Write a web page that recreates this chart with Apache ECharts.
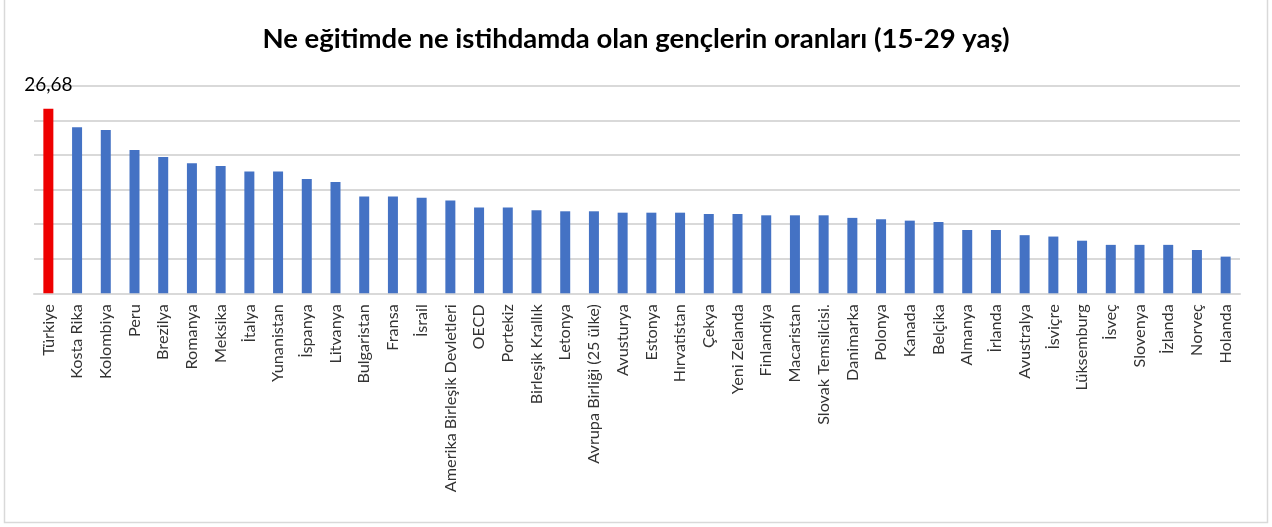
<!DOCTYPE html>
<html>
<head>
<meta charset="utf-8">
<script src="https://cdn.jsdelivr.net/npm/echarts@6/dist/echarts.min.js"></script>
<style>
html,body{margin:0;padding:0;background:#fff;}
#chart{width:1272px;height:527px;}
</style>
</head>
<body>
<div id="chart"></div>
<script>
const titleText = 'Ne eğitimde ne istihdamda olan gençlerin oranları (15-29 yaş)';
const categories = ['Türkiye','Kosta Rika','Kolombiya','Peru','Brezilya','Romanya','Meksika','İtalya','Yunanistan','İspanya','Litvanya','Bulgaristan','Fransa','İsrail','Amerika Birleşik Devletleri','OECD','Portekiz','Birleşik Krallık','Letonya','Avrupa Birliği (25 ülke)','Avusturya','Estonya','Hırvatistan','Çekya','Yeni Zelanda','Finlandiya','Macaristan','Slovak Temsilcisi.','Danimarka','Polonya','Kanada','Belçika','Almanya','İrlanda','Avustralya','İsviçre','Lüksemburg','İsveç','Slovenya','İzlanda','Norveç','Holanda'];
const values = [26.68,24.0,23.6,20.7,19.7,18.8,18.4,17.6,17.6,16.5,16.1,14.0,14.0,13.8,13.4,12.4,12.4,12.0,11.85,11.85,11.65,11.65,11.65,11.46,11.46,11.27,11.27,11.27,10.9,10.7,10.5,10.3,9.15,9.15,8.4,8.2,7.6,7.0,7.0,7.0,6.26,5.3];
const highlightIndex = 0;
const highlightLabel = '26,68';
const yMin = 0, yMax = 30, yStep = 5;

const chart = echarts.init(document.getElementById('chart'), null, {renderer:'canvas'});
const FONT = 'Lato, "Open Sans", sans-serif';
chart.setOption({
  animation:false,
  backgroundColor:'#fff',
  title:{
    text:titleText, left:'center', top:20,
    textStyle:{fontFamily:FONT, fontSize:27.5, fontWeight:'bold', color:'#000'}
  },
  graphic:[{type:'rect', shape:{x:4.5,y:-2,width:1263,height:524.5}, style:{fill:'none', stroke:'#d9d9d9', lineWidth:1.5}, silent:true}],
  grid:{left:34, right:32, top:85.7, bottom:233.7, containLabel:false},
  xAxis:{
    type:'category', data:categories,
    axisLine:{lineStyle:{color:'#d9d9d9', width:2}},
    axisTick:{show:false},
    axisLabel:{rotate:90, interval:0, margin:11, fontFamily:FONT, fontSize:16.2, color:'#333'}
  },
  yAxis:{
    type:'value', min:yMin, max:yMax, interval:yStep,
    axisLabel:{show:false}, axisLine:{show:false}, axisTick:{show:false},
    splitLine:{lineStyle:{color:'#d9d9d9', width:2}}
  },
  series:[{
    type:'bar', barWidth:10,
    data:values.map((v,i)=> i===highlightIndex ? {
      value:v, itemStyle:{color:'#ee0000'},
      label:{show:true, position:'top', distance:14, formatter:highlightLabel, fontFamily:FONT, fontSize:19, color:'#000'}
    } : {value:v}),
    itemStyle:{color:'#4472c4'}
  }]
});
</script>
</body>
</html>
